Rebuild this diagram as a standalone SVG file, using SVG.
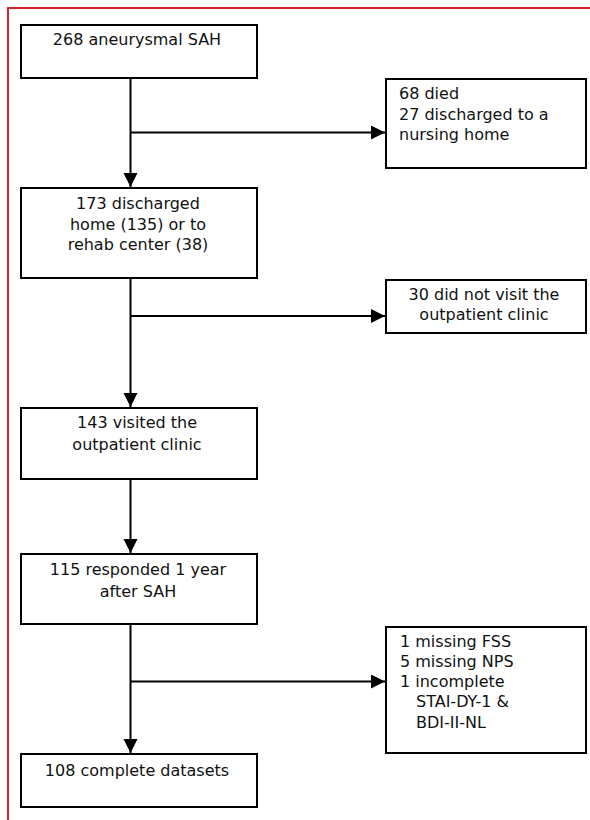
<svg xmlns="http://www.w3.org/2000/svg" width="590" height="820" viewBox="0 0 590 820">
<style>
.box{fill:#fff;stroke:#000;stroke-width:2}
.ln{fill:none;stroke:#000;stroke-width:2}
text{font-family:"DejaVu Sans",Verdana,sans-serif;font-size:16px;fill:#111}
.c{text-anchor:middle}
</style>
<defs>
<marker id="ah" markerUnits="userSpaceOnUse" markerWidth="16" markerHeight="16" refX="14" refY="7" orient="auto">
<path d="M0,0 L14,7 L0,14 Z" fill="#000"/>
</marker>
</defs>
<rect x="8" y="8" width="600" height="830" fill="none" stroke="#d7262d" stroke-width="2"/>
<g id="connectors">
<path class="ln" d="M130.5,79 V187" marker-end="url(#ah)"/>
<path class="ln" d="M130.5,132.5 H385" marker-end="url(#ah)"/>
<path class="ln" d="M130.5,279 V407" marker-end="url(#ah)"/>
<path class="ln" d="M130.5,316 H385" marker-end="url(#ah)"/>
<path class="ln" d="M130.5,480 V553" marker-end="url(#ah)"/>
<path class="ln" d="M130.5,625 V753" marker-end="url(#ah)"/>
<path class="ln" d="M130.5,681.5 H385" marker-end="url(#ah)"/>
</g>
<g id="n1">
<rect class="box" x="21" y="25" width="236" height="53"/>
<text class="c" x="137" y="45">268 aneurysmal SAH</text>
</g>
<g id="n2">
<rect class="box" x="386" y="79" width="200" height="89"/>
<text x="399" y="99">68 died</text>
<text x="399" y="120">27 discharged to a</text>
<text x="399" y="140">nursing home</text>
</g>
<g id="n3">
<rect class="box" x="21" y="188" width="236" height="90"/>
<text class="c" x="138" y="209">173 discharged</text>
<text class="c" x="138" y="230">home (135) or to</text>
<text class="c" x="138" y="250">rehab center (38)</text>
</g>
<g id="n4">
<rect class="box" x="386" y="280" width="200" height="53"/>
<text class="c" x="484" y="300">30 did not visit the</text>
<text class="c" x="484" y="320">outpatient clinic</text>
</g>
<g id="n5">
<rect class="box" x="21" y="408" width="236" height="71"/>
<text class="c" x="137" y="428">143 visited the</text>
<text class="c" x="137" y="450">outpatient clinic</text>
</g>
<g id="n6">
<rect class="box" x="21" y="554" width="236" height="70"/>
<text class="c" x="138" y="575">115 responded 1 year</text>
<text class="c" x="138" y="597">after SAH</text>
</g>
<g id="n7">
<rect class="box" x="386" y="627" width="200" height="126"/>
<text x="400" y="647">1 missing FSS</text>
<text x="400" y="667">5 missing NPS</text>
<text x="400" y="687">1 incomplete</text>
<text x="416" y="707">STAI-DY-1 &amp;</text>
<text x="416" y="728">BDI-II-NL</text>
</g>
<g id="n8">
<rect class="box" x="21" y="754" width="236" height="53"/>
<text class="c" x="137" y="776">108 complete datasets</text>
</g>
</svg>
